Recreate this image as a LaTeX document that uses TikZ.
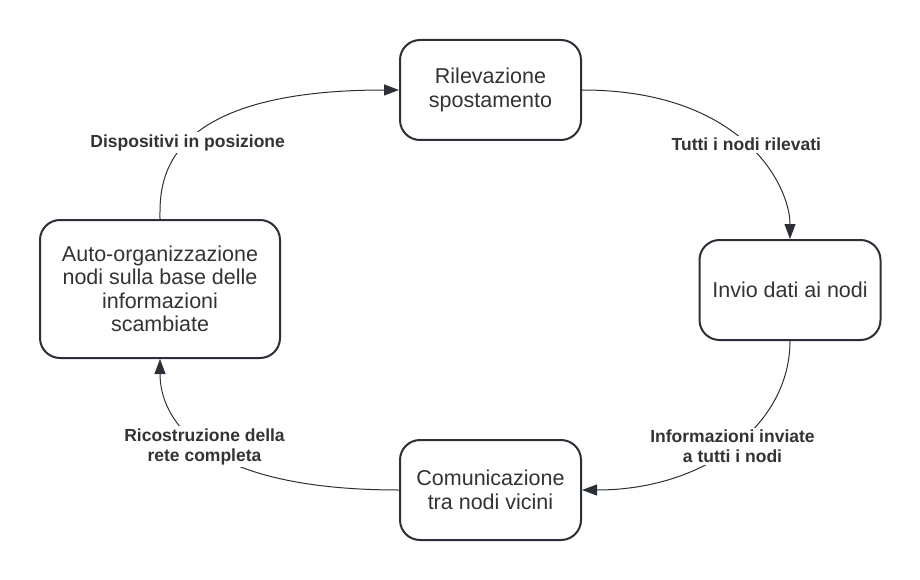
\documentclass[tikz,border=0pt]{standalone}
\usepackage{fontspec}
\setmainfont{Liberation Sans}
\usetikzlibrary{arrows.meta}
\definecolor{edgecol}{HTML}{2B3036}
\definecolor{txtcol}{HTML}{333333}
\begin{document}
\begin{tikzpicture}[x=1pt,y=-1pt,
  box/.style={draw=edgecol, line width=2pt, rounded corners=20pt, fill=white, align=center, text=txtcol, font=\fontsize{21.5}{23.5}\selectfont, inner sep=0pt},
  conn/.style={draw=edgecol, line width=1pt, -{Triangle[length=15pt,width=11pt]}},
  lbl/.style={fill=white, text=txtcol, font=\fontsize{17.5}{20}\selectfont\bfseries, align=center, inner sep=2pt}]
\useasboundingbox (0,0) rectangle (920,580);
\node[box, minimum width=181pt, minimum height=100pt] (top) at (490.5,90) {Rilevazione\\spostamento};
\node[box, minimum width=181pt, minimum height=100pt] (right) at (790,290) {Invio dati ai nodi};
\node[box, minimum width=181pt, minimum height=100pt] (bottom) at (490.5,490) {Comunicazione\\tra nodi vicini};
\node[box, minimum width=240pt, minimum height=138pt] (left) at (160,289) {Auto-organizzazione\\nodi sulla base delle\\informazioni\\scambiate};
\draw[conn] (top.east) .. controls +(161,0) and +(0,-53) .. node[lbl, pos=0.5] (l1) {Tutti i nodi rilevati} (right.north);
\draw[conn] (right.south) .. controls +(0,83) and +(124,0) .. node[lbl, pos=0.5] (l2) {Informazioni inviate\\a tutti i nodi} (bottom.east);
\draw[conn] (bottom.west) .. controls +(-200,0) and +(0,59) .. node[lbl, pos=0.5] (l3) {Ricostruzione della\\rete completa} (left.south);
\draw[conn] (left.north) .. controls +(0,-32) and +(-245,0) .. node[lbl, pos=0.5] (l4) {Dispositivi in posizione} (top.west);
\end{tikzpicture}
\end{document}
